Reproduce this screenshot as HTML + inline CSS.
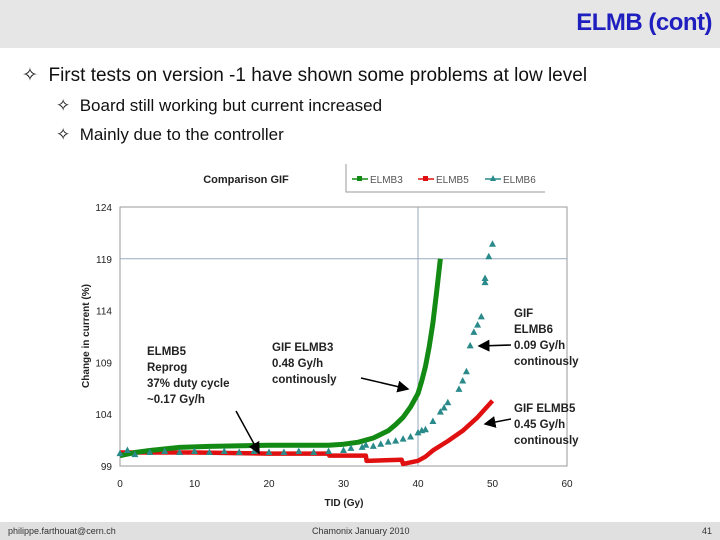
<!DOCTYPE html>
<html><head><meta charset="utf-8"><style>
body{margin:0;width:720px;height:540px;overflow:hidden;background:#fff;font-family:"Liberation Sans",sans-serif;position:relative}
.hdr{position:absolute;left:0;top:0;width:720px;height:48px;background:#e6e6e6}
.ttl{position:absolute;right:8px;top:9px;font-size:24px;color:#1f1fbf;font-weight:bold;letter-spacing:-0.5px}
.b{position:absolute;color:#111;font-size:19px}
.foot{position:absolute;left:0;top:522px;width:720px;height:18px;background:#e0e0e0;font-size:9px;color:#333}
</style></head><body>
<div class="hdr"><div class="ttl">ELMB (cont)</div></div>
<div class="b" style="left:22px;top:64px">✧&nbsp; First tests on version -1 have shown some problems at low level</div>
<div class="b" style="left:56px;top:96px;font-size:17px">✧&nbsp; Board still working but current increased</div>
<div class="b" style="left:56px;top:125px;font-size:17px">✧&nbsp; Mainly due to the controller</div>
<svg id="c" width="720" height="540" style="position:absolute;left:0;top:0"></svg>
<div class="foot"><span style="position:absolute;left:8px;top:4px">philippe.farthouat@cern.ch</span><span style="position:absolute;left:312px;top:4px">Chamonix January 2010</span><span style="position:absolute;left:702px;top:4px">41</span></div>
<script>
const xTicks=[0,10,20,30,40,50,60];
const yTicks=[99,104,109,114,119,124];
const g3x=[0,2,4,8,12,20,28,30,32,34,36,37,38,39,40,40.5,41,41.5,42,42.5,43];
const g3y=[100,100.3,100.5,100.8,100.9,101,101,101.1,101.3,101.7,102.4,103,103.7,104.7,106,107.2,108.6,110.5,112.8,115.8,119];
const r5x=[0,5,10,20,28,28.1,33,33.1,37.8,38,40,41,42,44,46,48,50];
const r5y=[100.3,100.3,100.3,100.2,100.2,100,100,99.5,99.6,99.2,99.5,99.9,100.5,101.4,102.4,103.7,105.3];
const t6x=[0,1,2,4,6,8,10,12,14,16,18,20,22,24,26,28,30,31,32.5,33,34,35,36,37,38,39,40,40.5,41,42,43,43.5,44,45.5,46,46.5,47,47.5,48,48.5,49,49,49.5,50];
const t6y=[100.2,100.5,100.1,100.3,100.4,100.3,100.4,100.3,100.4,100.3,100.4,100.3,100.3,100.4,100.3,100.4,100.5,100.7,100.8,101,100.9,101.1,101.3,101.4,101.6,101.8,102.2,102.4,102.5,103.3,104.2,104.6,105.1,106.4,107.2,108.1,110.6,111.9,112.6,113.4,116.7,117.1,119.2,120.4];
const S='http://www.w3.org/2000/svg',svg=document.getElementById('c');
const X=v=>120+v*447/60,Y=v=>466-(v-99)*259/25;
function el(t,a,p){const e=document.createElementNS(S,t);for(const k in a)e.setAttribute(k,a[k]);(p||svg).appendChild(e);return e}
function tx(x,y,s,a){const e=el('text',Object.assign({x:x,y:y,'font-size':10,'font-family':'Liberation Sans,sans-serif',fill:'#222'},a||{}));e.textContent=s;return e}
let r=el('rect',{x:120,y:207,width:447,height:259,fill:'none',stroke:'#999'});

let gv=el('line',{x1:X(40),x2:X(40),y1:207,y2:466,stroke:'#9aaac0'});
let gh=el('line',{x1:120,x2:567,y1:Y(119),y2:Y(119),stroke:'#9aaac0'});
xTicks.forEach(v=>{let t=tx(X(v),487,v,{'text-anchor':'middle'});});
yTicks.forEach(v=>{let t=tx(112,Y(v)+4,v,{'text-anchor':'end'});});
let xt=tx(344,506,'TID (Gy)',{'text-anchor':'middle','font-weight':'bold'});
let yt=tx(0,0,'Change in current (%)',{'text-anchor':'middle','font-weight':'bold',transform:'translate(89,336) rotate(-90)'});
let ct=tx(246,183,'Comparison GIF',{'text-anchor':'middle','font-weight':'bold','font-size':11});
function path(xs,ys,col,w,name){let d=xs.map((x,i)=>(i?'L':'M')+X(x)+','+Y(ys[i])).join('');let p=el('path',{d:d,fill:'none',stroke:col,'stroke-width':w,'stroke-linejoin':'round'});}
path(r5x,r5y,'#e01010',4.5,'series-elmb5');
path(g3x,g3y,'#138a13',5,'series-elmb3');
t6x.forEach((x,i)=>{let cx=X(x),cy=Y(t6y[i]);let p=el('path',{d:`M${cx},${cy-4}L${cx+3.5},${cy+2.5}L${cx-3.5},${cy+2.5}Z`,fill:'#2a8a8a'});});
let lg=el('g',{});
el('path',{d:'M346,164V192H545',fill:'none',stroke:'#999'},lg);
[['ELMB3','#138a13','s',352],['ELMB5','#e01010','s',418],['ELMB6','#2a8a8a','t',485]].forEach(([n,c,m,x])=>{
 let gg=el('g',{},lg);
 el('line',{x1:x,x2:x+16,y1:179,y2:179,stroke:c,'stroke-width':1.5},gg);
 if(m=='s')el('rect',{x:x+5,y:176,width:5,height:5,fill:c},gg);else el('path',{d:`M${x+8},175L${x+11},181L${x+5},181Z`,fill:c},gg);
 let t=tx(x+18,183,n,{fill:'#555'});gg.appendChild(t);});
function ann(x,y,lines,name){lines.forEach((s,i)=>{let t=tx(x,y+i*16,s,{'font-weight':'bold','font-size':11.5});});}
ann(147,355,['ELMB5','Reprog','37% duty cycle','~0.17 Gy/h'],'annotation-elmb5-reprog');
ann(272,351,['GIF ELMB3','0.48 Gy/h','continously'],'annotation-elmb3');
ann(514,317,['GIF','ELMB6','0.09 Gy/h','continously'],'annotation-elmb6');
ann(514,412,['GIF ELMB5','0.45 Gy/h','continously'],'annotation-elmb5');
el('defs',{}).innerHTML='<marker id="ar" markerWidth="8" markerHeight="8" refX="7" refY="4" orient="auto"><path d="M0,0L8,4L0,8Z" fill="#000"/></marker>';
[[236,411,259,453],[361,378,408,389],[511,345,479,346],[511,419,485,424]].forEach(a=>{let l=el('line',{x1:a[0],y1:a[1],x2:a[2],y2:a[3],stroke:'#000','stroke-width':1.5,'marker-end':'url(#ar)'});});
</script>
</body></html>
